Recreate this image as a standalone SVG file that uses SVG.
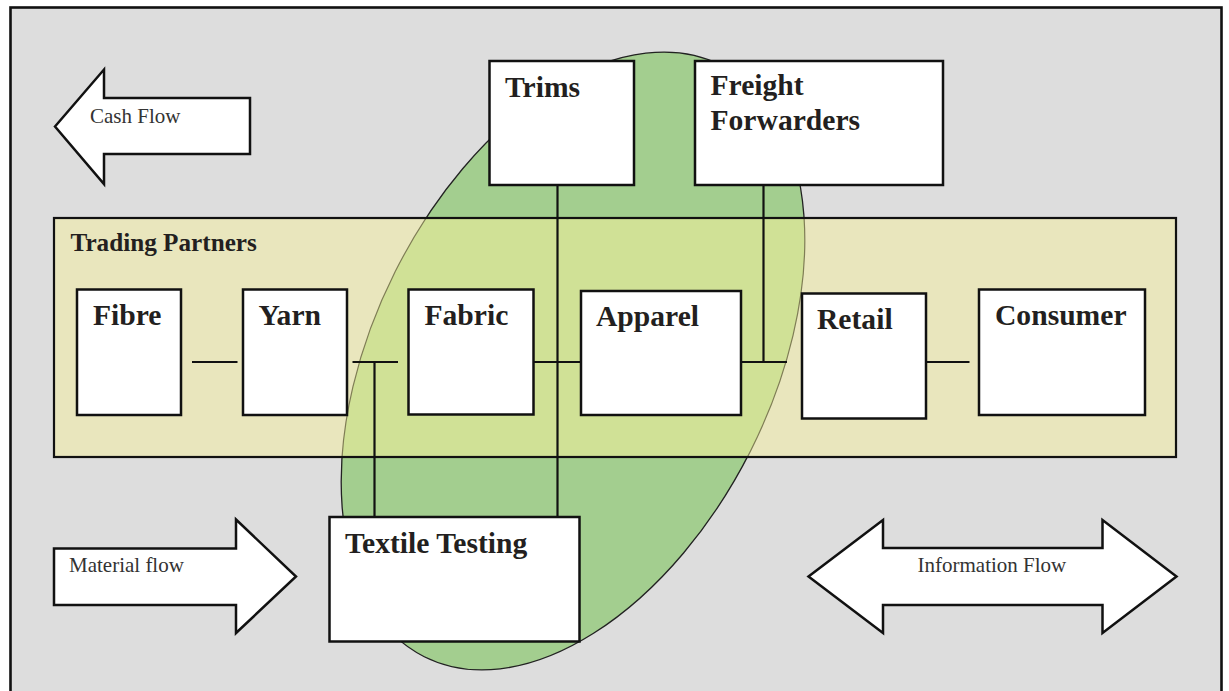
<svg xmlns="http://www.w3.org/2000/svg" width="1229" height="691" viewBox="0 0 1229 691">
  <style>
    .box { fill: #ffffff; stroke: #111111; stroke-width: 2.5; }
    .node-label { font-family: "Liberation Serif", "Times New Roman", serif; font-weight: bold; font-size: 29.6px; fill: #231f20; }
    .flow { fill: #ffffff; stroke: #111111; stroke-width: 2.5; stroke-linejoin: miter; }
    .flow-label { font-family: "Liberation Serif", "Times New Roman", serif; font-size: 21px; fill: #333333; }
    .link { stroke: #111111; stroke-width: 2.2; fill: none; }
  </style>
  <defs>
    <clipPath id="bandClip">
      <rect x="54" y="218" width="1122" height="239"/>
    </clipPath>
    <ellipse id="zoneShape" cx="573" cy="361" rx="331" ry="199" transform="rotate(-63.3 573 361)"/>
  </defs>

  <!-- page background and frame -->
  <rect x="0" y="0" width="1229" height="691" fill="#ffffff"/>
  <rect x="10.5" y="7.5" width="1211" height="700" fill="#dddddd" stroke="#111111" stroke-width="2.6"/>

  <!-- outsourced services zone -->
  <g id="service-zone">
    <use href="#zoneShape" fill="#a3ce8f" stroke="#222222" stroke-width="1.3"/>
  </g>

  <!-- trading partners band -->
  <g id="trading-partners">
    <rect x="54" y="218" width="1122" height="239" fill="#e9e6bd"/>
    <g clip-path="url(#bandClip)">
      <use href="#zoneShape" fill="#d0e196" stroke="#7f7d55" stroke-width="1.2"/>
    </g>
    <rect x="54" y="218" width="1122" height="239" fill="none" stroke="#111111" stroke-width="2.2"/>
    <text x="70.5" y="250.5" font-family="Liberation Serif, Times New Roman, serif" font-weight="bold" font-size="25.2" fill="#231f20">Trading Partners</text>
  </g>

  <!-- connectors -->
  <g id="connectors">
    <line class="link" x1="192" y1="362" x2="237.5" y2="362"/>
    <line class="link" x1="352.5" y1="362" x2="398" y2="362"/>
    <line class="link" x1="374.5" y1="362" x2="374.5" y2="516"/>
    <line class="link" x1="533" y1="362" x2="581" y2="362"/>
    <line class="link" x1="557.5" y1="180" x2="557.5" y2="516"/>
    <line class="link" x1="741" y1="362" x2="787" y2="362"/>
    <line class="link" x1="763.5" y1="180" x2="763.5" y2="362"/>
    <line class="link" x1="926" y1="362" x2="969.5" y2="362"/>
  </g>

  <!-- supply chain stages -->
  <g id="fibre">
    <rect class="box" x="77" y="289.5" width="104" height="125.5"/>
    <text class="node-label" x="93" y="325">Fibre</text>
  </g>
  <g id="yarn">
    <rect class="box" x="243" y="289.5" width="104" height="125.5"/>
    <text class="node-label" x="258.5" y="325">Yarn</text>
  </g>
  <g id="fabric">
    <rect class="box" x="408.5" y="289.5" width="125" height="125"/>
    <text class="node-label" x="424.5" y="325">Fabric</text>
  </g>
  <g id="apparel">
    <rect class="box" x="581" y="291" width="160" height="124"/>
    <text class="node-label" x="596" y="325.5">Apparel</text>
  </g>
  <g id="retail">
    <rect class="box" x="802" y="293.5" width="124" height="125"/>
    <text class="node-label" x="817" y="329">Retail</text>
  </g>
  <g id="consumer">
    <rect class="box" x="979" y="289.5" width="166" height="125.5"/>
    <text class="node-label" x="995" y="325">Consumer</text>
  </g>

  <!-- service providers -->
  <g id="trims">
    <rect class="box" x="489.5" y="61" width="144.5" height="124"/>
    <text class="node-label" x="505" y="96.5">Trims</text>
  </g>
  <g id="freight-forwarders">
    <rect class="box" x="695" y="61" width="248" height="124"/>
    <text class="node-label" x="710.5" y="95">Freight</text>
    <text class="node-label" x="710.5" y="130">Forwarders</text>
  </g>
  <g id="textile-testing">
    <rect class="box" x="329.5" y="517" width="250" height="124.5"/>
    <text class="node-label" x="345" y="552.5">Textile Testing</text>
  </g>

  <!-- flow arrows -->
  <g id="cash-flow">
    <polygon class="flow" points="55,126.5 104,69.5 104,98 250,98 250,154 104,154 104,184"/>
    <text class="flow-label" x="90" y="123">Cash Flow</text>
  </g>
  <g id="material-flow">
    <polygon class="flow" points="54,548.5 236,548.5 236,519.5 296,576.5 236,633 236,605 54,605"/>
    <text class="flow-label" x="69" y="572">Material flow</text>
  </g>
  <g id="information-flow">
    <polygon class="flow" points="808.5,576.5 883,520 883,548 1102.5,548 1102.5,520 1176.5,576.5 1102.5,633 1102.5,605 883,605 883,633"/>
    <text class="flow-label" x="917.5" y="572">Information Flow</text>
  </g>
</svg>
